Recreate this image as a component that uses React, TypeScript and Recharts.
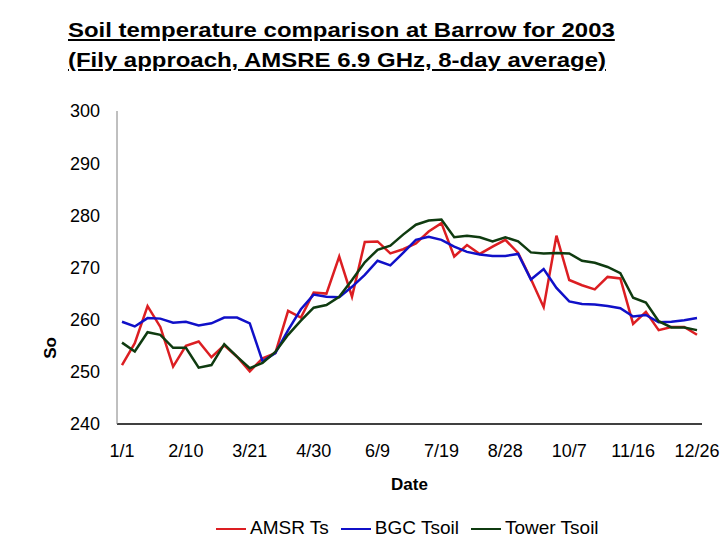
import React from 'react';
import {
  LineChart,
  Line,
  XAxis,
  YAxis,
  Legend,
  Label,
} from 'recharts';

// 8-day composite start dates (46 periods)
const dates = [
  '1/1', '1/9', '1/17', '1/25', '2/2', '2/10', '2/18', '2/26', '3/5', '3/13',
  '3/21', '3/29', '4/6', '4/14', '4/22', '4/30', '5/8', '5/16', '5/24', '6/1',
  '6/9', '6/17', '6/25', '7/3', '7/11', '7/19', '7/27', '8/4', '8/12', '8/20',
  '8/28', '9/5', '9/13', '9/21', '9/29', '10/7', '10/15', '10/23', '10/31', '11/8',
  '11/16', '11/24', '12/2', '12/10', '12/18', '12/26',
];

const tickDates = ['1/1', '2/10', '3/21', '4/30', '6/9', '7/19', '8/28', '10/7', '11/16', '12/26'];
const yTicks = [240, 250, 260, 270, 280, 290, 300];

const amsrTs = [
  251.3, 255.5, 262.6, 258.6, 251.0, 255.0, 255.8, 252.8, 255.1, 252.9,
  250.1, 252.6, 253.6, 261.7, 260.4, 265.2, 265.0, 272.1, 264.4, 274.9,
  275.0, 272.7, 273.5, 274.6, 276.9, 278.5, 272.1, 274.3, 272.6, 274.0,
  275.3, 272.8, 267.8, 262.4, 276.1, 267.6, 266.6, 265.8, 268.2, 267.9,
  259.2, 261.5, 258.0, 258.6, 258.6, 257.1,
];

const bgcTsoil = [
  259.6, 258.7, 260.3, 260.2, 259.4, 259.6, 258.9, 259.3, 260.4, 260.4,
  259.3, 252.0, 253.6, 258.0, 262.0, 264.8, 264.4, 264.3, 266.3, 268.6,
  271.3, 270.4, 272.8, 275.3, 275.9, 275.3, 274.0, 273.0, 272.5, 272.2,
  272.2, 272.6, 267.7, 269.7, 266.1, 263.5, 263.0, 262.9, 262.6, 262.2,
  260.6, 260.9, 259.5, 259.6, 259.9, 260.3,
];

const towerTsoil = [
  255.6, 253.9, 257.6, 257.1, 254.6, 254.6, 250.8, 251.3, 255.3, 252.9,
  250.7, 251.7, 253.8, 257.1, 259.8, 262.3, 262.8, 264.4, 267.6, 271.0,
  273.4, 274.2, 276.3, 278.2, 279.0, 279.2, 275.8, 276.1, 275.8, 275.0,
  275.8, 275.0, 272.9, 272.7, 272.8, 272.7, 271.3, 270.9, 270.1, 268.9,
  264.2, 263.3, 259.7, 258.5, 258.5, 258.0,
];

const data = dates.map((date, i) => ({
  date,
  amsr: amsrTs[i],
  bgc: bgcTsoil[i],
  tower: towerTsoil[i],
}));

const FONT = '"Liberation Sans", Arial, sans-serif';

const LegendContent = (props: any) => {
  const items = props.payload || [];
  return (
    <div
      style={{
        width: 720,
        height: 46,
        display: 'flex',
        alignItems: 'flex-end',
        paddingLeft: 216,
        paddingBottom: 1,
        boxSizing: 'border-box',
        fontFamily: FONT,
        fontSize: 19,
        color: '#000',
      }}
    >
      {items.map((entry: any) => (
        <div key={entry.value} style={{ display: 'flex', alignItems: 'center', marginRight: 12 }}>
          <svg width={30} height={20} style={{ marginRight: 4 }}>
            <line x1={0} y1={11} x2={30} y2={11} stroke={entry.color} strokeWidth={2} />
          </svg>
          <span>{entry.value}</span>
        </div>
      ))}
    </div>
  );
};

export default function App() {
  return (
    <div
      style={{
        position: 'absolute',
        left: 0,
        top: 0,
        width: 720,
        height: 540,
        background: '#fff',
        fontFamily: FONT,
      }}
    >
      <div
        style={{
          position: 'absolute',
          left: 68,
          top: 15,
          fontSize: 21,
          fontWeight: 'bold',
          lineHeight: '30px',
          textDecoration: 'underline',
          whiteSpace: 'nowrap',
          transform: 'scaleX(1.14)',
          transformOrigin: 'left top',
        }}
      >
        <div>Soil temperature comparison at Barrow for 2003</div>
        <div>(Fily approach, AMSRE 6.9 GHz, 8-day average)</div>
      </div>
      <div
        style={{
          position: 'absolute',
          left: 40,
          top: 338,
          fontSize: 17,
          fontWeight: 'bold',
          transform: 'rotate(-90deg)',
          transformOrigin: 'center',
        }}
      >
        So
      </div>
      <LineChart
        width={720}
        height={540}
        data={data}
        margin={{ top: 111, right: 18, bottom: 0, left: 57 }}
      >
        <XAxis
          dataKey="date"
          ticks={tickDates}
          interval={0}
          padding={{ left: 5, right: 5 }}
          stroke="#000"
          strokeWidth={1.5}
          tickLine={false}
          tickSize={0}
          tickMargin={20}
          height={70}
          tick={{ fill: '#000', fontSize: 18, fontFamily: FONT }}
        >
          <Label
            value="Date"
            position="insideBottom"
            offset={4}
            style={{ fontSize: 17, fontWeight: 'bold', fill: '#000', fontFamily: FONT }}
          />
        </XAxis>
        <XAxis
          xAxisId="top"
          dataKey="date"
          orientation="top"
          height={0}
          tick={false}
          tickLine={false}
          stroke="#000"
          strokeWidth={1.5}
        />
        <YAxis
          domain={[240, 300]}
          ticks={yTicks}
          width={60}
          stroke="#808080"
          tickLine={false}
          tickSize={0}
          tickMargin={17}
          tick={{ fill: '#000', fontSize: 18, fontFamily: FONT }}
        />
        <YAxis
          yAxisId="right"
          orientation="right"
          width={0}
          tick={false}
          tickLine={false}
          stroke="#000"
          strokeWidth={2.5}
        />
        <Legend verticalAlign="bottom" wrapperStyle={{ left: 0, width: 720 }} content={<LegendContent />} />
        <Line
          type="linear"
          dataKey="amsr"
          name="AMSR Ts"
          stroke="#dc1e22"
          strokeWidth={2.5}
          dot={false}
          isAnimationActive={false}
        />
        <Line
          type="linear"
          dataKey="bgc"
          name="BGC Tsoil"
          stroke="#1010c8"
          strokeWidth={2.5}
          dot={false}
          isAnimationActive={false}
        />
        <Line
          type="linear"
          dataKey="tower"
          name="Tower Tsoil"
          stroke="#0f3b10"
          strokeWidth={2.5}
          dot={false}
          isAnimationActive={false}
        />
      </LineChart>
    </div>
  );
}
